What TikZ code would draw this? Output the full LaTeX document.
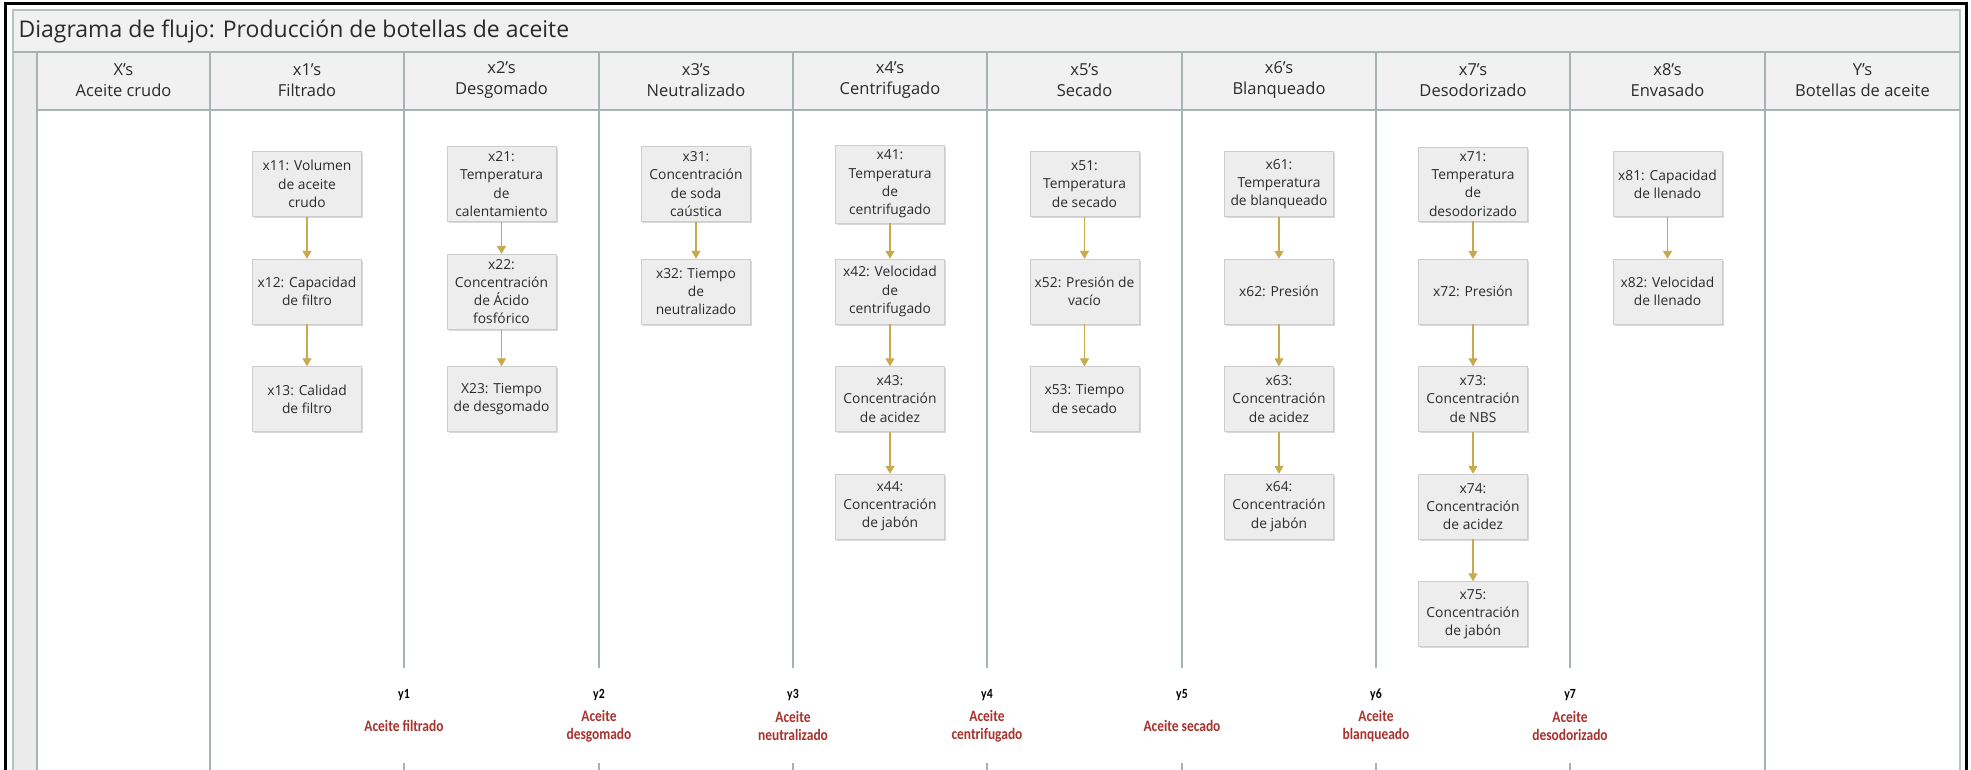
\documentclass[tikz,border=0pt]{standalone}
\usepackage{fontspec}
\setmainfont{Open Sans}
\newfontfamily\condfont[FakeStretch=0.84]{Carlito}
\usetikzlibrary{arrows.meta,shadows}
\definecolor{laneline}{HTML}{A9B2B2}
\definecolor{framegray}{HTML}{B9C2C2}
\definecolor{bandfill}{HTML}{F1F1F1}
\definecolor{stripfill}{HTML}{EBEBEB}
\definecolor{boxfill}{HTML}{EDEDED}
\definecolor{boxdraw}{HTML}{CDCDCD}
\definecolor{arrowc}{HTML}{C8A94E}
\definecolor{redlab}{HTML}{A8322D}
\definecolor{textc}{HTML}{2B2B2B}
\tikzset{
  pbox/.style={draw=boxdraw, fill=boxfill, minimum width=109pt, minimum height=65pt,
    align=center, font=\fontsize{13.8}{18.2}\selectfont, text=textc, inner xsep=1pt, inner ysep=5pt,
    drop shadow={shadow xshift=1.5pt, shadow yshift=-1.8pt, opacity=0.3}},
  flow/.style={draw=arrowc, line width=1.2pt, -{Triangle[width=9pt,length=8pt]}},
  lane/.style={draw=laneline, line width=1.4pt},
  hdr/.style={align=center, font=\fontsize{16.5}{21}\selectfont, text=textc},
  ynum/.style={font=\condfont\bfseries\fontsize{14}{16}\selectfont, text=black},
  ylab/.style={fill=white, align=center, font=\condfont\bfseries\fontsize{16}{17.5}\selectfont, text=redlab, inner sep=3pt},
}
\begin{document}
\begin{tikzpicture}[x=1pt,y=-1pt]
\useasboundingbox (0,0) rectangle (1971,770);
\clip (0,0) rectangle (1971,770);
\fill[white] (0,0) rectangle (1971,770);
% frames
\draw[black, line width=3pt] (5,4) rectangle (1966,790);
\draw[framegray, line width=1.2pt, fill=white] (13,10) rectangle (1960,790);
\fill[bandfill] (13.6,10.6) rectangle (1959.4,52);
\fill[bandfill] (13.6,52) rectangle (1959.4,110);
\fill[stripfill] (13.6,52) rectangle (37,790);
\draw[lane] (13,52) -- (1960,52);
\draw[lane] (37,110) -- (1960,110);
\draw[lane] (37,52) -- (37,790);
% title
\node[anchor=west, font=\fontsize{23}{26}\selectfont, text=textc] (title) at (15,31) {Diagrama de flujo: Producción de botellas de aceite};
% headers
\node[hdr] (h0) at (123.5,80) {X's\\Aceite crudo};
\node[hdr] (h1) at (307,80) {x1's\\Filtrado};
\node[hdr] (h2) at (501.5,80) {x2's\\Desgomado};
\node[hdr] (h3) at (696,80) {x3's\\Neutralizado};
\node[hdr] (h4) at (890,80) {x4's\\Centrifugado};
\node[hdr] (h5) at (1084.5,80) {x5's\\Secado};
\node[hdr] (h6) at (1279,80) {x6's\\Blanqueado};
\node[hdr] (h7) at (1473,80) {x7's\\Desodorizado};
\node[hdr] (h8) at (1667.5,80) {x8's\\Envasado};
\node[hdr] (h9) at (1862.5,80) {Y's\\Botellas de aceite};
% bottom y labels
\foreach \n/\x/\t in {1/404/{Aceite filtrado},2/599/{Aceite\\desgomado},3/793/{Aceite\\neutralizado},4/987/{Aceite\\centrifugado},5/1182/{Aceite secado},6/1376/{Aceite\\blanqueado},7/1570/{Aceite\\desodorizado}}{
  \node[ynum] (y\n) at (\x,695) {y\n};
  \node[ylab] (yl\n) at (\x,726) {\t};
  \coordinate (lt\n) at (\x,52);
  \coordinate (le\n) at (\x,668);
  \coordinate (ls\n) at (\x,763);
  \coordinate (lb\n) at (\x,790);
  \draw[lane] (lt\n) -- (le\n);
  \draw[lane] (ls\n) -- (lb\n);
}
\draw[lane] (210,52) -- (210,790);
\draw[lane] (1765,52) -- (1765,790);
% boxes
\def\ra{184}\def\rb{291.5}\def\rc{399}\def\rd{506.5}\def\re{614}
\node[pbox] (x11) at (307,\ra) {x11: Volumen\\de aceite\\crudo};
\node[pbox] (x12) at (307,\rb) {x12: Capacidad\\de filtro};
\node[pbox] (x13) at (307,\rc) {x13: Calidad\\de filtro};
\node[pbox] (x21) at (501.5,\ra) {x21:\\Temperatura\\de\\calentamiento};
\node[pbox] (x22) at (501.5,\rb) {x22:\\Concentración\\de Ácido\\fosfórico};
\node[pbox] (x23) at (501.5,\rc) {X23: Tiempo\\de desgomado};
\node[pbox] (x31) at (696,\ra) {x31:\\Concentración\\de soda\\caústica};
\node[pbox] (x32) at (696,\rb) {x32: Tiempo\\de\\neutralizado};
\node[pbox] (x41) at (890,\ra) {x41:\\Temperatura\\de\\centrifugado};
\node[pbox] (x42) at (890,\rb) {x42: Velocidad\\de\\centrifugado};
\node[pbox] (x43) at (890,\rc) {x43:\\Concentración\\de acidez};
\node[pbox] (x44) at (890,\rd) {x44:\\Concentración\\de jabón};
\node[pbox] (x51) at (1084.5,\ra) {x51:\\Temperatura\\de secado};
\node[pbox] (x52) at (1084.5,\rb) {x52: Presión de\\vacío};
\node[pbox] (x53) at (1084.5,\rc) {x53: Tiempo\\de secado};
\node[pbox] (x61) at (1279,\ra) {x61:\\Temperatura\\de blanqueado};
\node[pbox] (x62) at (1279,\rb) {x62: Presión};
\node[pbox] (x63) at (1279,\rc) {x63:\\Concentración\\de acidez};
\node[pbox] (x64) at (1279,\rd) {x64:\\Concentración\\de jabón};
\node[pbox] (x71) at (1473,\ra) {x71:\\Temperatura\\de\\desodorizado};
\node[pbox] (x72) at (1473,\rb) {x72: Presión};
\node[pbox] (x73) at (1473,\rc) {x73:\\Concentración\\de NBS};
\node[pbox] (x74) at (1473,\rd) {x74:\\Concentración\\de acidez};
\node[pbox] (x75) at (1473,\re) {x75:\\Concentración\\de jabón};
\node[pbox] (x81) at (1667.5,\ra) {x81: Capacidad\\de llenado};
\node[pbox] (x82) at (1667.5,\rb) {x82: Velocidad\\de llenado};
% arrows
\foreach \a/\b in {x11/x12,x12/x13,x21/x22,x22/x23,x31/x32,x41/x42,x42/x43,x43/x44,x51/x52,x52/x53,x61/x62,x62/x63,x63/x64,x71/x72,x72/x73,x73/x74,x74/x75,x81/x82}{
  \draw[flow] (\a.south) -- (\b.north);
}
\end{tikzpicture}
\end{document}
